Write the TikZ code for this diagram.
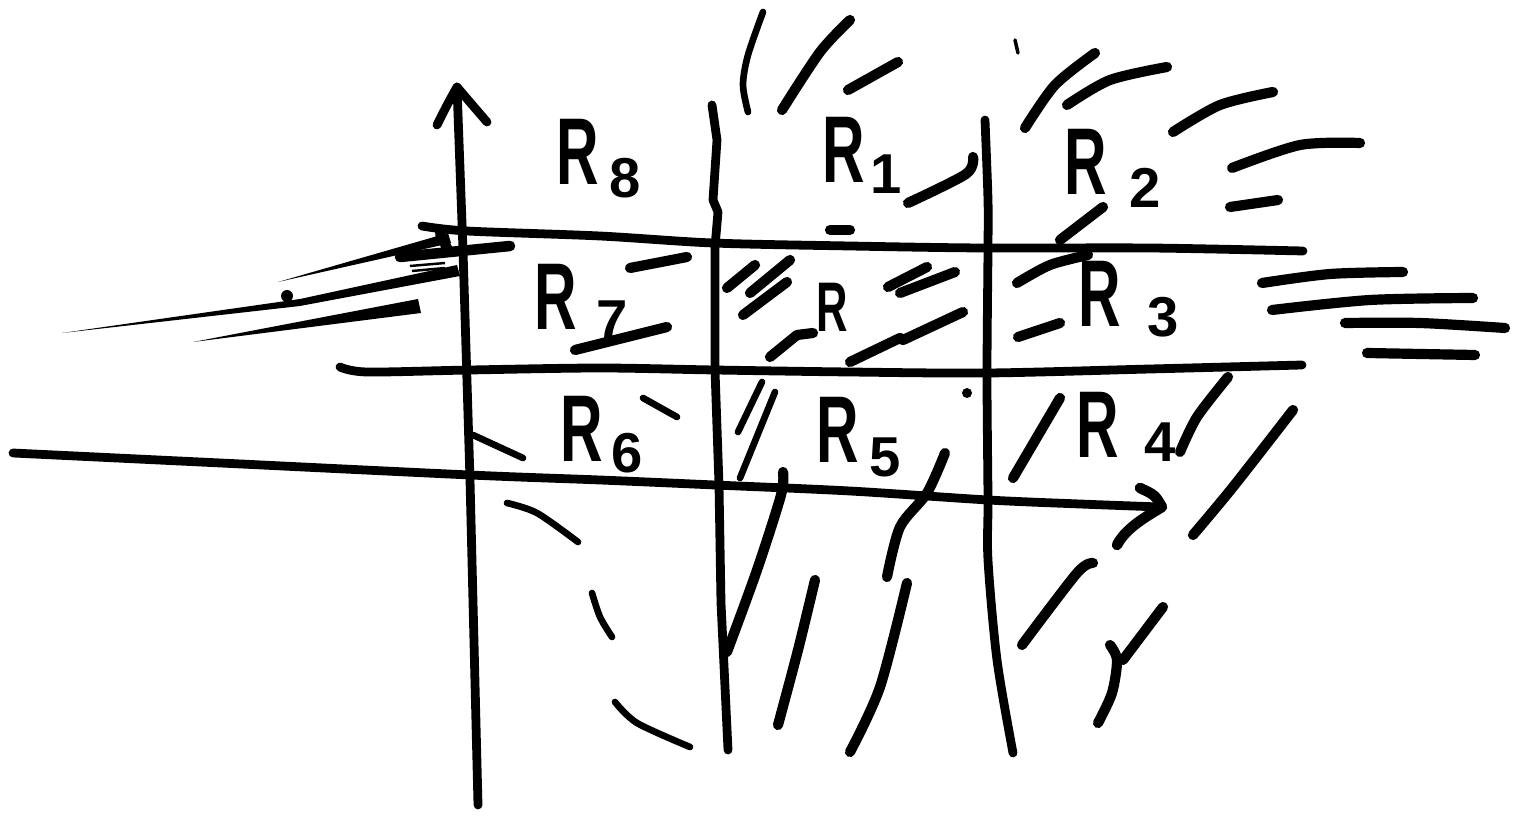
\documentclass[tikz,border=0pt]{standalone}
\usepackage{fontspec}
\setmainfont{Liberation Sans}
\newcommand\narrowR{\scalebox{0.62}[1]{R}}
\begin{document}
\begin{tikzpicture}[x=0.02cm,y=-0.02cm,
  pen/.style={line width=5pt, line cap=round, line join=round},
  hatch/.style={line width=5.8pt, line cap=round, line join=round},
  fine/.style={line width=3.8pt, line cap=round, line join=round},
  bigR/.style={inner sep=0pt, font=\bfseries\fontsize{54}{56}\selectfont},
  smallR/.style={inner sep=0pt, font=\bfseries\fontsize{40}{42}\selectfont},
  idx/.style={inner sep=0pt, font=\bfseries\fontsize{32}{34}\selectfont}]
\useasboundingbox (0,0) rectangle (1529,817);

% ---- frame of the 3x3 grid ----
% vertical axis with its arrow tip
\draw[pen] (478,805) -- (470,480) -- (463,250) -- (457,87);
\draw[pen] (437,125) .. controls (447,105) .. (457,87) .. controls (468,100) .. (487,122);
% second and third vertical lines
\draw[pen] (712,105) -- (717,140) -- (713,200) -- (718,212) -- (715,247)
  -- (715,370) -- (719,485) -- (721,603) -- (728,750);
\draw[pen] plot[smooth, tension=0.5] coordinates {(985,120) (988,200) (988,248)
  (987,375) (988,500) (988,560) (997,660) (1013,753)};
% upper horizontal line with its small hook
\draw[pen] plot[smooth, tension=0.5] coordinates {(422,226) (467,231) (600,236)
  (713,243) (850,246) (983,248) (1150,248) (1303,251)};
\draw[hatch] (440,234) -- (448,250);
% middle horizontal line
\draw[pen] plot[smooth, tension=0.5] coordinates {(340,367) (367,372) (470,370)
  (600,368) (715,370) (850,372) (988,373) (1150,369) (1302,365)};
% lower horizontal axis with its arrow tip
\draw[pen] plot[smooth, tension=0.5] coordinates {(13,453) (200,462) (470,475)
  (600,480) (715,485) (850,491) (988,500) (1080,504) (1160,507)};
\draw[line width=6pt, line cap=round, line join=round]
  (1140,488) .. controls (1155,495) .. (1162,507)
  .. controls (1140,520) and (1125,530) .. (1117,545);

% ---- labels ----
\node[bigR] (r8) at (578,152) {\narrowR};  \node[idx] (r8s) at (625,178) {8};
\node[bigR] (r1) at (844,150) {\narrowR};  \node[idx] (r1s) at (886,174) {1};
\node[bigR] (r2) at (1086,162) {\narrowR}; \node[idx] (r2s) at (1145,188) {2};
\node[bigR] (r7) at (556,297) {\narrowR};  \node[idx] (r7s) at (612,320) {7};
\node[smallR] (r0) at (832,307) {\narrowR};
\node[bigR] (r3) at (1100,294) {\narrowR}; \node[idx] (r3s) at (1163,317) {3};
\node[bigR] (r6) at (582,429) {\narrowR};  \node[idx] (r6s) at (627,453) {6};
\node[bigR] (r5) at (838,430) {\narrowR};  \node[idx] (r5s) at (885,457) {5};
\node[bigR] (r4) at (1098,425) {\narrowR}; \node[idx] (r4s) at (1160,442) {4};

% ---- hatching above the grid ----
\draw[fine] plot[smooth] coordinates {(763,12) (748,55) (743,85) (748,112)};
\draw[hatch] plot[smooth] coordinates {(850,20) (820,52) (782,110)};
\draw[hatch] (898,62) -- (848,90);
\draw[line width=2pt, line cap=round] (1015,40) -- (1018,53);
\draw[hatch] plot[smooth] coordinates {(1095,53) (1055,85) (1025,128)};
\draw[hatch] plot[smooth] coordinates {(1167,67) (1110,80) (1067,105)};
\draw[hatch] plot[smooth] coordinates {(1273,92) (1220,105) (1173,132)};
\draw[hatch] plot[smooth] coordinates {(1360,143) (1300,145) (1232,168)};
\draw[hatch] (1278,200) -- (1230,207);
\draw[hatch] plot[smooth] coordinates {(973,157) (966,174) (908,203)};
\draw[hatch] (830,230) -- (850,230);
\draw[hatch] (1103,207) -- (1060,240);

% ---- hatching right of the grid ----
\draw[hatch] plot[smooth] coordinates {(1403,272) (1330,274) (1262,283)};
\draw[hatch] plot[smooth] coordinates {(1473,298) (1370,300) (1272,310)};
\draw[hatch] plot[smooth] coordinates {(1505,328) (1420,323) (1345,323)};
\draw[hatch] (1475,355) -- (1367,353);
\draw[hatch] plot[smooth] coordinates {(1088,255) (1050,265) (1017,283)};
\draw[hatch] (1060,323) -- (1018,337);

% ---- marks in the middle row ----
\draw[hatch] (630,268) -- (687,257);
\draw[hatch] (575,350) -- (667,327);
\draw[hatch] (727,288) -- (755,265);
\draw[hatch] (750,293) -- (790,260);
\draw[hatch] (743,315) -- (787,282);
\draw[hatch] (770,357) -- (797,335) -- (813,333);
\draw[hatch] (888,287) -- (927,267);
\draw[hatch] (900,293) -- (955,272);
\draw[hatch] (850,362) -- (900,338) -- (903,340) -- (963,312);

% ---- hatching below the grid ----
\draw[fine] (738,432) -- (762,382);
\draw[fine] (740,478) -- (775,392);
\fill (967,393) circle (5);
\draw[hatch] plot[smooth] coordinates {(945,453) (927,493) (900,527) (887,577)};
\draw[hatch] plot[smooth] coordinates {(783,472) (781,495) (757,570) (727,652)};
\draw[hatch] plot[smooth] coordinates {(815,580) (798,650) (778,725)};
\draw[hatch] plot[smooth] coordinates {(907,583) (880,687) (850,752)};
\draw[fine] (473,435) -- (523,458);
\draw[fine] (643,398) -- (677,417);
\draw[fine] plot[smooth] coordinates {(507,503) (537,513) (578,542)};
\draw[fine] plot[smooth] coordinates {(592,593) (600,617) (612,637)};
\draw[fine] plot[smooth] coordinates {(615,702) (637,723) (690,747)};
\draw[hatch] (1060,398) -- (1013,478);
\draw[hatch] plot[smooth] coordinates {(1228,377) (1197,417) (1180,452)};
\draw[hatch] plot[smooth] coordinates {(1293,410) (1233,487) (1193,535)};
\draw[hatch] plot[smooth] coordinates {(1093,563) (1077,573) (1022,645)};
\draw[hatch] (1163,607) -- (1123,660);
\draw[hatch] plot[smooth] coordinates {(1110,645) (1117,660) (1112,693) (1098,723)};

% ---- tapered strokes left of the grid ----
\fill (278,282) -- (448,233) -- (451,243) -- cycle;
\fill (62,333) -- (300,299) -- (457,265) -- (460,276) -- (300,306) -- cycle;
\fill (193,342) -- (418,299) -- (421,313) -- cycle;
\draw[line width=6pt, line cap=round] (400,257) -- (510,246);
\fill (287,296) circle (6);
\draw[line width=1.4pt] (410,266) -- (445,263);
\draw[line width=1.4pt] (412,271) -- (445,268);
\end{tikzpicture}
\end{document}
